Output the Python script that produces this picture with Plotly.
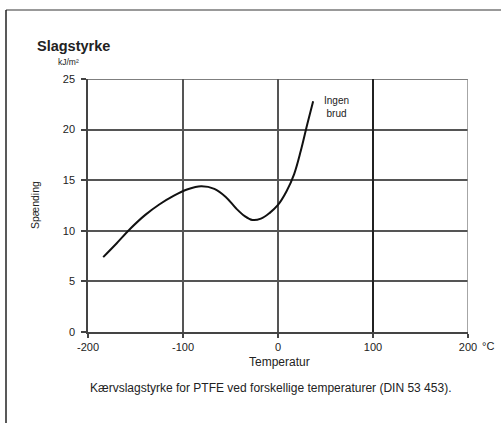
import plotly.graph_objects as go

# Data
temperature = [-184, -170, -155, -140, -125, -110, -95, -81, -67, -55, -44, -35, -27, -18, -9, 0, 9, 17, 24, 31, 37]
impact = [7.4, 8.75, 10.25, 11.55, 12.6, 13.45, 14.1, 14.4, 14.15, 13.35, 12.2, 11.45, 11.07, 11.2, 11.75, 12.55, 13.9, 15.6, 17.9, 20.6, 22.8]

x_ticks = [-200, -100, 0, 100, 200]
x_ticklabels = ["-200", "-100", "0", "100", "200"]
y_ticks = [0, 5, 10, 15, 20, 25]

FONT = "Liberation Sans, Arial, sans-serif"
L, R, T, B = 88, 33, 79, 91
W, H = 501, 423
PW, PH = W - L - R, H - T - B


def px(xp):
    return (xp - L) / PW


def py(yp):
    return (H - B - yp) / PH


fig = go.Figure()
fig.add_trace(go.Scatter(
    x=temperature, y=impact, mode="lines",
    line=dict(color="#111", width=2, shape="spline", smoothing=1.0),
    hoverinfo="skip", showlegend=False,
))

fig.update_layout(
    width=W, height=H,
    margin=dict(l=L, r=R, t=T, b=B),
    paper_bgcolor="white", plot_bgcolor="white",
    font=dict(family=FONT, size=10, color="#222"),
    showlegend=False,
    xaxis=dict(
        range=[-200, 200], tickvals=x_ticks, ticktext=x_ticklabels,
        showgrid=True, gridcolor="#555", gridwidth=1.5,
        showline=True, linecolor="#444", linewidth=1.5,
        ticks="outside", ticklen=4, tickcolor="#444", tickwidth=1.5,
        zeroline=False, tickfont=dict(size=11, color="#222"),
    ),
    yaxis=dict(
        range=[0, 25], tickvals=y_ticks,
        showgrid=True, gridcolor="#555", gridwidth=1.5,
        showline=True, linecolor="#444", linewidth=1.5,
        ticks="outside", ticklen=5, tickcolor="#444", tickwidth=1.5,
        zeroline=False, tickfont=dict(size=11, color="#222"),
        ticklabelstandoff=4,
    ),
)

# Top grid border line + right border + dark line at 100
fig.add_shape(type="line", xref="x", yref="y", x0=-200, x1=200, y0=25, y1=25,
              line=dict(color="#555", width=1.5))
fig.add_shape(type="line", xref="x", yref="y", x0=200, x1=200, y0=0, y1=25,
              line=dict(color="#888", width=1.5))
fig.add_shape(type="line", xref="x", yref="y", x0=100, x1=100, y0=0, y1=25,
              line=dict(color="#111", width=1.5))

# Page frame
fig.add_shape(type="line", xref="paper", yref="paper", x0=px(6), x1=px(501), y0=py(10), y1=py(10),
              line=dict(color="#777", width=1.5))
fig.add_shape(type="line", xref="paper", yref="paper", x0=px(6), x1=px(6), y0=py(10), y1=py(423),
              line=dict(color="#222", width=1.5))

ann = [
    dict(text="<b>Slagstyrke</b>", x=px(35), y=py(46), xanchor="left", yanchor="middle",
         font=dict(size=14.5, color="#222")),
    dict(text="kJ/m²", x=px(68), y=py(62), xanchor="center", yanchor="middle",
         font=dict(size=8.5, color="#222")),
    dict(text="Spænding", x=px(35), y=py(205), xanchor="center", yanchor="middle",
         textangle=-90, font=dict(size=10.5, color="#222")),
    dict(text="Temperatur", x=px(279.5), y=py(362), xanchor="center", yanchor="middle",
         font=dict(size=12, color="#222")),
    dict(text="Kærvslagstyrke for PTFE ved forskellige temperaturer (DIN 53 453).",
         x=px(270), y=py(388), xanchor="center", yanchor="middle",
         font=dict(size=12, color="#222")),
    dict(text="°C", x=px(488), y=py(346), xanchor="center", yanchor="middle",
         font=dict(size=11, color="#222")),
]
for a in ann:
    fig.add_annotation(xref="paper", yref="paper", showarrow=False, **a)

fig.add_annotation(xref="x", yref="y", x=62, y=22.2, text="Ingen<br>brud", showarrow=False,
                   font=dict(size=10, color="#222"), xanchor="center", yanchor="middle")

fig.write_html("out.html", config={"displayModeBar": False},
               post_script="document.body.style.margin='0';document.body.style.overflow='hidden';")
